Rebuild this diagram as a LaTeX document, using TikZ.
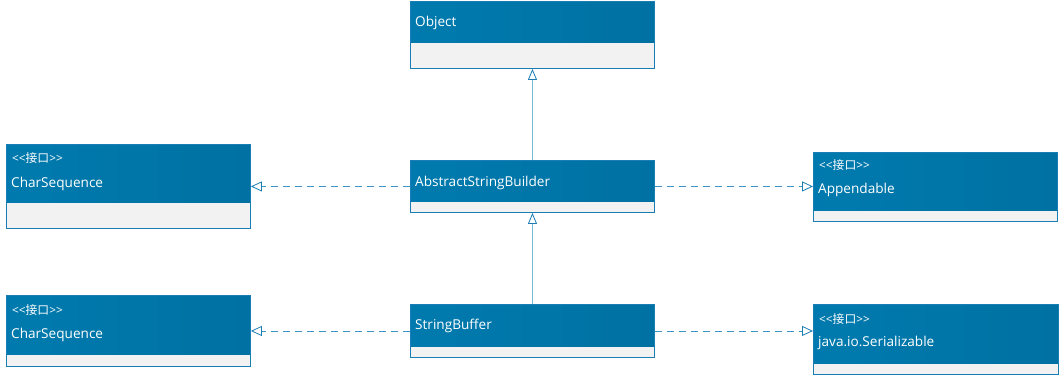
\documentclass[tikz,border=0pt]{standalone}
\usepackage{fontspec}
\setmainfont{Open Sans}
\newfontfamily\cjk{Noto Sans CJK SC}
\usetikzlibrary{arrows.meta}
\definecolor{hdA}{HTML}{0071A2}
\definecolor{hdB}{HTML}{0088C0}
\definecolor{bodyfill}{HTML}{F2F2F2}
\definecolor{edge}{HTML}{1A7DB3}
\definecolor{conn}{HTML}{3D96C6}
\definecolor{connlight}{HTML}{78B9DA}
\newcommand\umlbox[9]{%
  % #1 name, #2 x, #3 y, #4 w, #5 header h, #6 total h, #7 stereo y (or empty), #8 name y, #9 text
  \shade[left color=hdA!60!hdB, middle color=hdB, right color=hdA] (#2,#3) rectangle ++(#4,#5);
  \fill[bodyfill] (#2,#3+#5) rectangle (#2+#4,#3+#6);
  \node[classbox, minimum width=#4pt, minimum height=#6pt, anchor=north west] (#1) at (#2,#3) {};
  \if\relax\detokenize{#7}\relax\else
    \node[stereo] at (#2+6,#7) {<{}<{\cjk 接口}>{}>};
  \fi
  \node[nametext] at (#2+5,#8+0.5) {#9};
}
\begin{document}
\begin{tikzpicture}[x=1pt,y=-1pt,
  classbox/.style={draw=edge, line width=0.9pt, inner sep=0pt},
  nametext/.style={anchor=west, text=white, font=\fontsize{13.6}{15}\selectfont, inner sep=0pt},
  stereo/.style={anchor=west, text=white, font=\fontsize{11.8}{13}\selectfont, inner sep=0pt},
  realize/.style={draw=conn, line width=0.9pt, dashed, dash pattern=on 7pt off 5pt,
    -{Triangle[open, length=11pt, width=10pt, fill=white, color=edge, line width=0.8pt]}},
  inherit/.style={draw=connlight, line width=1.5pt,
    -{Triangle[open, length=11pt, width=9pt, fill=white, color=edge, line width=0.8pt]}}]
\useasboundingbox (0,0) rectangle (1062,376);
\umlbox{object}{410}{1}{244}{42}{67}{}{22}{Object}
\umlbox{asb}{410}{160}{244}{42}{52}{}{182}{AbstractStringBuilder}
\umlbox{sb}{410}{304}{244}{43}{53}{}{325}{StringBuffer}
\umlbox{csA}{6}{144}{244}{59}{84}{158}{183}{CharSequence}
\umlbox{csB}{6}{295}{244}{60}{71}{310}{334}{CharSequence}
\umlbox{app}{813}{152}{244}{59}{69}{165}{189}{Appendable}
\umlbox{ser}{813}{304}{245}{60}{70}{319}{342}{java.io.Serializable}
\draw[inherit] (asb.north) -- (object.south);
\draw[inherit] (sb.north) -- (asb.south);
\draw[realize] (asb.west) -- (csA.east |- asb.west);
\draw[realize] (asb.east) -- (app.west |- asb.east);
\draw[realize] (sb.west) -- (csB.east |- sb.west);
\draw[realize] (sb.east) -- (ser.west |- sb.east);
\end{tikzpicture}
\end{document}
